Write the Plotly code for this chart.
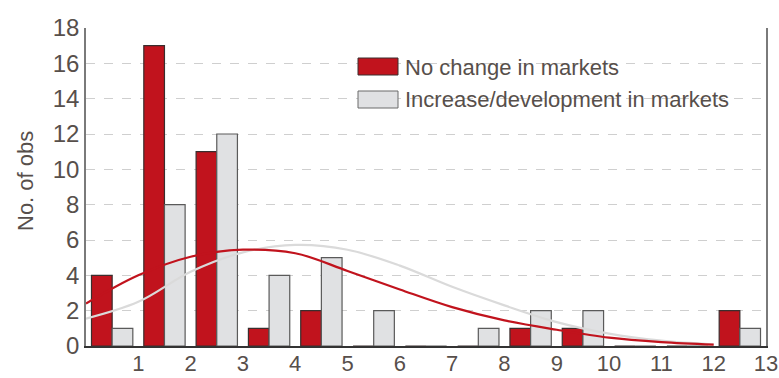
import plotly.graph_objects as go

# Histogram bins of width 1 (0-1, 1-2, ..., 12-13)
bin_centers = [0.5, 1.5, 2.5, 3.5, 4.5, 5.5, 6.5, 7.5, 8.5, 9.5, 10.5, 11.5, 12.5]
no_change = [4, 17, 11, 1, 2, 0, 0, 0, 1, 1, 0, 0, 2]
increase = [1, 8, 12, 4, 5, 2, 0, 1, 2, 2, 0, 0, 1]

# Fitted density curves (scaled to counts)
curve_x = [0, 1, 2, 3, 4, 5, 6, 7, 8, 9, 10, 11, 12]
no_change_fit = [2.4, 4.0, 5.05, 5.45, 5.25, 4.25, 3.2, 2.2, 1.45, 0.92, 0.47, 0.22, 0.08]
increase_fit = [1.55, 2.5, 4.2, 5.3, 5.72, 5.45, 4.55, 3.35, 2.3, 1.35, 0.7, 0.3, 0.08]

series_names = ["No change in markets", "Increase/development in markets"]
x_ticks = list(range(1, 14))
y_ticks = list(range(0, 19, 2))

RED = "#c1131d"
GREY = "#e0e1e3"
TEXT = "#574f4b"
FONT = "Liberation Sans, Arial, sans-serif"

fig = go.Figure()

# curves first so the bars sit on top of them
fig.add_trace(go.Scatter(x=curve_x, y=increase_fit, mode="lines",
                         line=dict(color="#dadada", width=2.2, shape="spline", smoothing=1.0),
                         showlegend=False, hoverinfo="skip"))
fig.add_trace(go.Scatter(x=curve_x, y=no_change_fit, mode="lines",
                         line=dict(color=RED, width=2.2, shape="spline", smoothing=1.0),
                         showlegend=False, hoverinfo="skip"))

fig.add_trace(go.Bar(x=bin_centers, y=no_change, name=series_names[0],
                     marker=dict(color=RED, line=dict(color="#3a2e2e", width=1.2)),
                     showlegend=False))
fig.add_trace(go.Bar(x=bin_centers, y=increase, name=series_names[1],
                     marker=dict(color=GREY, line=dict(color="#5a5a5a", width=1.2)),
                     showlegend=False))

# legend drawn as swatches + labels
legend_rows = [(RED, "#3a2e2e", series_names[0], 67), (GREY, "#6a6a6a", series_names[1], 100)]
L, R, T, B = 86, 13, 28, 32
W, H = 779 - L - R, 378 - T - B
for fill, edge, label, ypx in legend_rows:
    fig.add_shape(type="rect", xref="paper", yref="paper",
                  x0=(358 - L) / W, x1=(398 - L) / W,
                  y0=(378 - B - (ypx + 8)) / H, y1=(378 - B - (ypx - 9)) / H,
                  fillcolor=fill, line=dict(color=edge, width=1))
    fig.add_annotation(xref="paper", yref="paper", x=(403 - L) / W,
                       y=(378 - B - ypx) / H, text=label, showarrow=False,
                       xanchor="left", yanchor="middle",
                       font=dict(family=FONT, size=22, color=TEXT))

fig.add_annotation(xref="paper", yref="paper", x=(25 - L) / W, y=(378 - B - 181) / H,
                   text="No. of obs", textangle=-90, showarrow=False,
                   xanchor="center", yanchor="middle",
                   font=dict(family=FONT, size=22, color=TEXT))

fig.update_layout(
    width=779, height=378,
    margin=dict(l=L, r=R, t=T, b=B),
    paper_bgcolor="white", plot_bgcolor="white",
    barmode="group", bargap=0.21, bargroupgap=0,
    font=dict(family=FONT, color=TEXT),
    xaxis=dict(range=[0, 13], tickvals=x_ticks, ticktext=[str(v) for v in x_ticks],
               showgrid=False, zeroline=False, showline=True, linecolor="#333333",
               linewidth=1.5, ticks="", tickfont=dict(size=22, color=TEXT),
               ticklabelstandoff=-3, automargin=False),
    yaxis=dict(range=[0, 18], tickvals=y_ticks, showgrid=True, gridcolor="#cfcfcf",
               griddash="dash", gridwidth=1, zeroline=False, showline=True,
               linecolor="#7a7a7a", linewidth=1.5, mirror=True, ticks="",
               tickfont=dict(size=24, color=TEXT), ticklabelstandoff=0,
               automargin=False),
)

fig.write_html("out.html")
